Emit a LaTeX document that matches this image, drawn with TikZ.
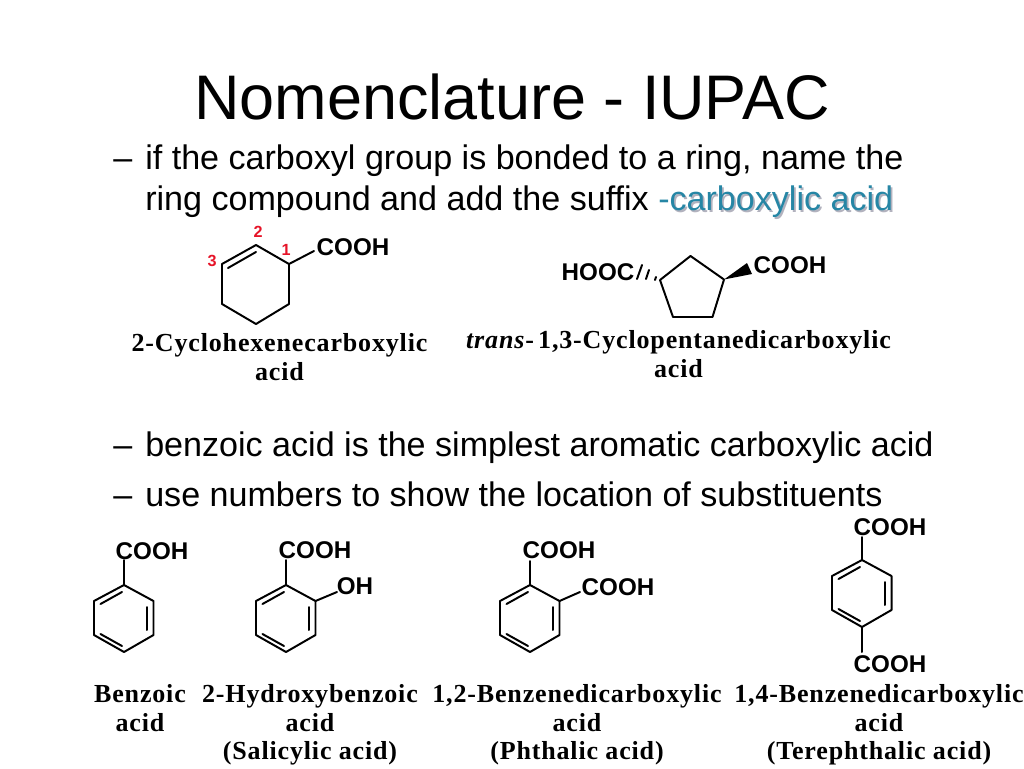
\documentclass[tikz,border=0pt]{standalone}
\usepackage{fontspec}
\setmainfont{Liberation Sans}
\newfontfamily\namefont[LetterSpace=3.2]{Liberation Serif}
\definecolor{suffixblue}{RGB}{38,134,165}
\definecolor{suffixshadow}{RGB}{178,178,190}
\definecolor{numred}{RGB}{230,20,40}
\newcommand{\shadowed}[1]{\rlap{\kern1.2pt\raisebox{-1.2pt}{\textcolor{suffixshadow}{#1}}}\textcolor{suffixblue}{#1}}

\begin{document}
\begin{tikzpicture}[x=0.25mm, y=-0.25mm, line cap=round, line join=round,
  bond/.style={line width=1.4pt},
  bullet/.style={anchor=base west, inner sep=0pt, font=\fontsize{24.25}{29}\selectfont},
  group/.style={inner sep=0pt, font=\fontsize{17.2}{20}\selectfont\bfseries},
  acidname/.style={inner sep=0pt, align=center, font=\namefont\fontsize{18.5}{20.4}\selectfont\bfseries},
  locant/.style={inner sep=0pt, text=numred, font=\fontsize{11.5}{13}\selectfont\bfseries}]

\useasboundingbox (0,0) rectangle (1024,768);

% Titolo e testo
\node[inner sep=0pt, font=\fontsize{44.8}{50}\selectfont] (title) at (512,97) {Nomenclature - IUPAC};
\node[bullet] (dasha) at (113,169.5) {--};
\node[bullet] (linea) at (145,169.5) {if the carboxyl group is bonded to a ring, name the};
\node[bullet] (lineab) at (145,210.5) {ring compound and add the suffix \textcolor{suffixblue}{-}\shadowed{carboxylic acid}};
\node[bullet] (dashb) at (113,456) {--};
\node[bullet] (lineb) at (145,456) {benzoic acid is the simplest aromatic carboxylic acid};
\node[bullet] (dashc) at (113,506) {--};
\node[bullet] (linec) at (145,506) {use numbers to show the location of substituents};

% Cicloesene
\coordinate (h1) at (289,264);
\coordinate (h2) at (256,245);
\coordinate (h3) at (222,264);
\coordinate (h4) at (222,304);
\coordinate (h5) at (256,324);
\coordinate (h6) at (289,304);
\coordinate (h7) at (228,268);
\coordinate (h8) at (256,252);
\coordinate (h9) at (314,251);
\draw[bond] (h1) -- (h2) -- (h3) -- (h4) -- (h5) -- (h6) -- (h1);
\draw[bond] (h7) -- (h8);
\draw[bond] (h1) -- (h9);
\node[group] (hcooh) at (353,247) {COOH};
\node[locant] (one) at (286,250) {1};
\node[locant] (two) at (258,232) {2};
\node[locant] (three) at (212,261) {3};
\node[acidname] (hname) at (279.5,357) {2-Cyclohexenecarboxylic\\acid};

% Ciclopentano
\coordinate (p1) at (724,279.5);
\coordinate (p2) at (690.5,256);
\coordinate (p3) at (660,280);
\coordinate (p4) at (673,317);
\coordinate (p5) at (712.5,317);
\coordinate (w1) at (747,263);
\coordinate (w2) at (752,274);
\draw[bond] (p1) -- (p2) -- (p3) -- (p4) -- (p5) -- (p1);
\fill (p1) -- (w1) -- (w2) -- cycle;
\coordinate (q1) at (656,277);
\coordinate (q2) at (655,280);
\coordinate (q3) at (649,270);
\coordinate (q4) at (646,279);
\coordinate (q5) at (642,265);
\coordinate (q6) at (637,279);
\draw[bond] (q1) -- (q2);
\draw[bond] (q3) -- (q4);
\draw[bond] (q5) -- (q6);
\node[group] (pcooh) at (790,265) {COOH};
\node[group] (phooc) at (598,272) {HOOC};
\node[acidname] (pname) at (678.5,354) {\textit{trans}-\,1,3-Cyclopentanedicarboxylic\\acid};

% Anelli benzenici
\foreach \r/\x/\y in {a/124/585,b/286/585,c/530/585,d/862/560}{
  \coordinate (\r1) at (\x,\y);
  \coordinate (\r2) at (\x+29.5,\y+16);
  \coordinate (\r3) at (\x+29.5,\y+50);
  \coordinate (\r4) at (\x,\y+67);
  \coordinate (\r5) at (\x-30,\y+50);
  \coordinate (\r6) at (\x-30,\y+16);
  \coordinate (\r7) at (\x-23.5,\y+19);
  \coordinate (\r8) at (\x-2,\y+7);
  \coordinate (\r9) at (\x+23,\y+22);
  \coordinate (\r0) at (\x+23,\y+45);
  \coordinate (\r x) at (\x-23.5,\y+49);
  \coordinate (\r y) at (\x-2,\y+61);
  \draw[bond] (\r1) -- (\r2) -- (\r3) -- (\r4) -- (\r5) -- (\r6) -- (\r1);
  \draw[bond] (\r7) -- (\r8);
  \draw[bond] (\r9) -- (\r0);
  \draw[bond] (\r x) -- (\r y);
}

% Sostituenti
\node[group] (acooh) at (152,551) {COOH};
\node[group] (bcooh) at (315,550) {COOH};
\node[group] (boh) at (355,586) {OH};
\node[group] (ccooh) at (559,550) {COOH};
\node[group] (ccoohb) at (618,587) {COOH};
\node[group] (dcooh) at (890,527) {COOH};
\node[group] (dcoohb) at (890,664) {COOH};
\coordinate (ae) at (124,560);
\coordinate (be) at (286,560);
\coordinate (bf) at (337,592);
\coordinate (ce) at (530,561);
\coordinate (cf) at (580,592);
\coordinate (de) at (862,537);
\coordinate (df) at (862,652);
\draw[bond] (a1) -- (ae);
\draw[bond] (b1) -- (be);
\draw[bond] (b2) -- (bf);
\draw[bond] (c1) -- (ce);
\draw[bond] (c2) -- (cf);
\draw[bond] (d1) -- (de);
\draw[bond] (d4) -- (df);

% Nomi
\node[acidname, anchor=north] (aname) at (140,684) {Benzoic\\acid};
\node[acidname, anchor=north] (bname) at (310,684) {2-Hydroxybenzoic\\acid\\(Salicylic acid)};
\node[acidname, anchor=north] (cname) at (577,684) {1,2-Benzenedicarboxylic\\acid\\(Phthalic acid)};
\node[acidname, anchor=north] (dname) at (879,684) {1,4-Benzenedicarboxylic\\acid\\(Terephthalic acid)};
\end{tikzpicture}
\end{document}
